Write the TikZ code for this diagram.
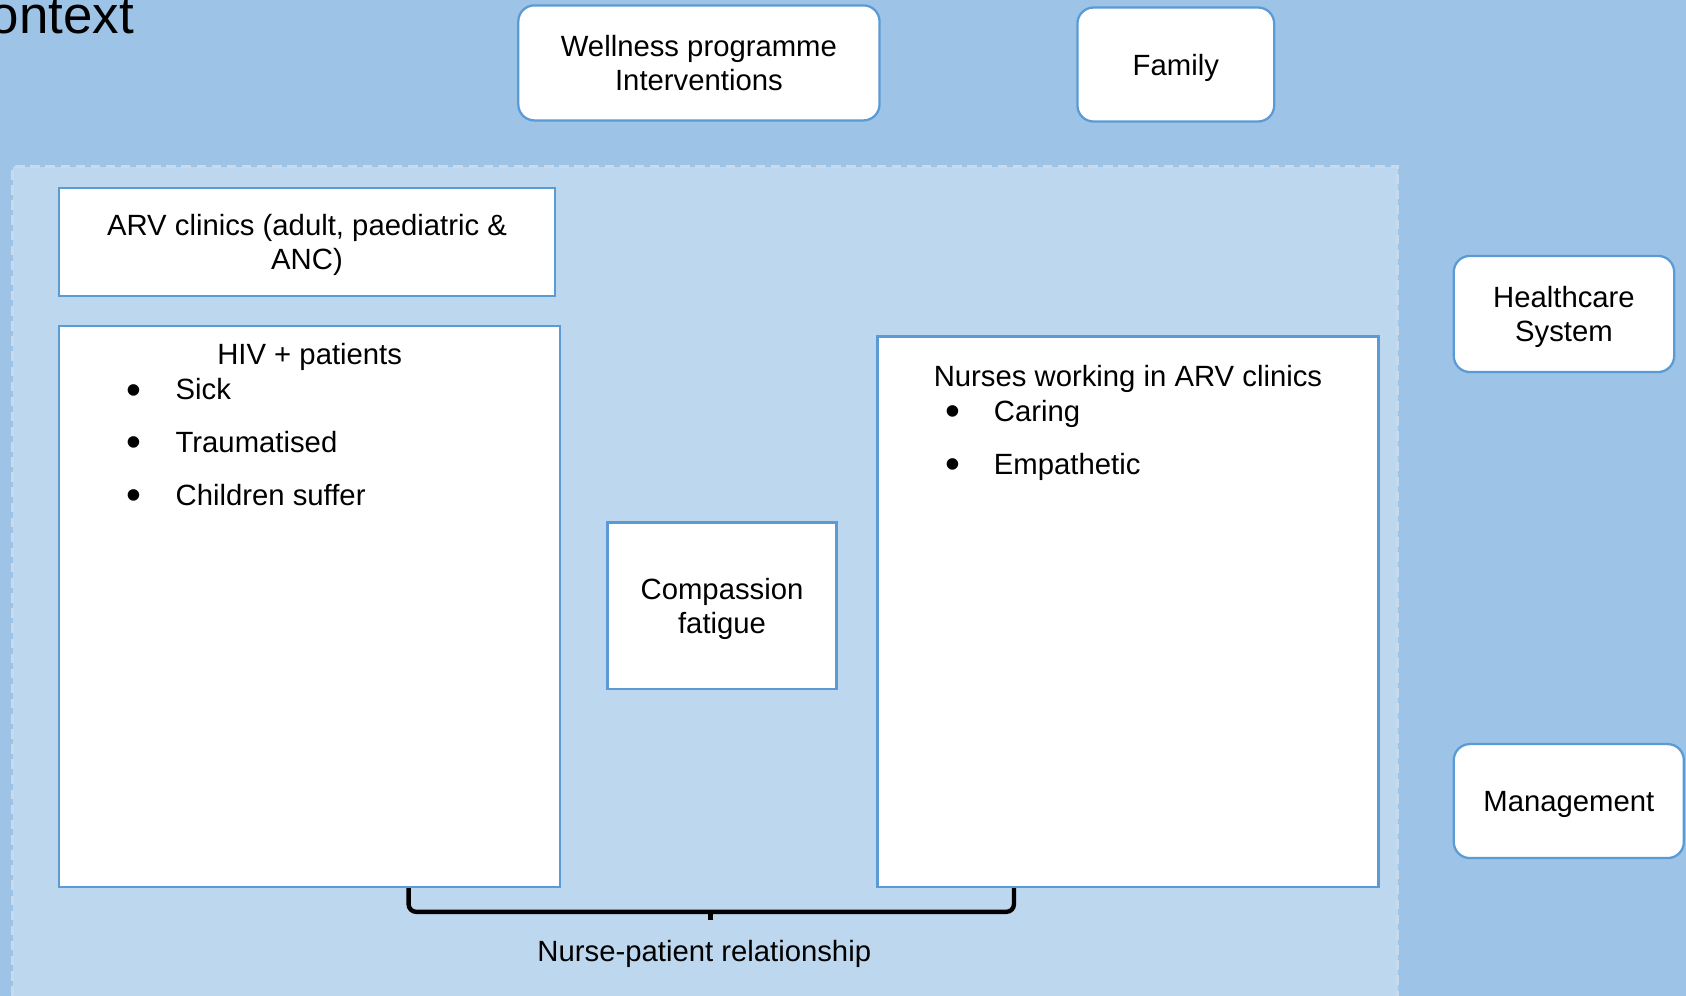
\documentclass[tikz,border=0pt]{standalone}
\usepackage{fontspec}
\usepackage{graphicx}
\setmainfont{Liberation Sans}
\definecolor{outerbg}{HTML}{9DC3E6}
\definecolor{innerbg}{HTML}{BDD7EE}
\definecolor{boxline}{HTML}{5B9BD5}
\definecolor{dashline}{HTML}{C8DAEE}
\begin{document}
\begin{tikzpicture}[x=0.02cm,y=-0.02cm,
  every node/.style={font=\fontsize{15.5}{17.8}\selectfont},
  roundbox/.style={draw=boxline, line width=1.2pt, fill=white, rounded corners=8.5pt, inner sep=0pt, align=center, text depth=0pt},
  squarebox/.style={draw=boxline, line width=1.2pt, fill=white, inner sep=0pt, align=center, text depth=0pt},
  item/.style={inner sep=0pt, anchor=base west},
  dot/.style={inner sep=0pt, anchor=base, yshift=-2.2pt},
  brace/.style={line width=2.3pt, rounded corners=4pt},
]
\useasboundingbox (0,0) rectangle (1568,926);
% backgrounds
\fill[outerbg] (0,0) rectangle (1568,926);
\fill[innerbg] (12,155) rectangle (1300,940);
\draw[dashline, line width=1.6pt, dash pattern=on 5pt off 3pt] (12,940) -- (12,155) -- (1300,155) -- (1300,940);

% title
\node[font=\fontsize{28}{32}\selectfont, anchor=base east, inner sep=0pt] (title) at (125,31) {Context};

% outer context boxes
\node[roundbox, minimum width=6.72cm, minimum height=2.14cm] (wellness) at (650,58.5) {Wellness programme\\Interventions};
\node[roundbox, minimum width=3.66cm, minimum height=2.12cm] (family) at (1093.5,60) {Family};
\node[roundbox, minimum width=4.1cm, minimum height=2.16cm] (health) at (1454.5,292) {Healthcare\\System};
\node[roundbox, minimum width=4.28cm, minimum height=2.12cm] (mgmt) at (1459,745) {Management};

% clinic boxes
\node[squarebox, minimum width=9.22cm, minimum height=2.0cm] (arv) at (285.5,225) {ARV clinics (adult, paediatric \&\\ANC)};
\node[squarebox, minimum width=9.32cm, minimum height=10.44cm] (hiv) at (288,564) {};
\node[squarebox, minimum width=4.26cm, minimum height=3.1cm] (cf) at (671.5,563.5) {Compassion\\fatigue};
\node[squarebox, minimum width=9.32cm, minimum height=10.24cm] (nurses) at (1049,569) {};

% patients
\node[inner sep=0pt, anchor=base] (hivtitle) at (288,339) {HIV + patients};
\node[dot] (d1) at (125,372) {\scalebox{1.45}{•}};
\node[item] (sick) at (163,372) {Sick};
\node[dot] (d2) at (125,421) {\scalebox{1.45}{•}};
\node[item] (trauma) at (163,421) {Traumatised};
\node[dot] (d3) at (125,470) {\scalebox{1.45}{•}};
\node[item] (children) at (163,470) {Children suffer};

% nurses
\node[inner sep=0pt, anchor=base] (nursetitle) at (1049,359) {Nurses working in ARV clinics};
\node[dot] (d4) at (886,392) {\scalebox{1.45}{•}};
\node[item] (caring) at (924,392) {Caring};
\node[dot] (d5) at (886,441) {\scalebox{1.45}{•}};
\node[item] (empath) at (924,441) {Empathetic};

% relationship brace
\coordinate (bl) at (hiv.south -| 380,0);
\coordinate (br) at (nurses.south -| 943,0);
\coordinate (tip) at (661,848);
\draw[brace] (bl) |- (tip) -| (br);
\draw[line width=2.6pt] (tip) -- ++(0,8);
\node (rel) at (655,887) {Nurse-patient relationship};
\end{tikzpicture}
\end{document}
